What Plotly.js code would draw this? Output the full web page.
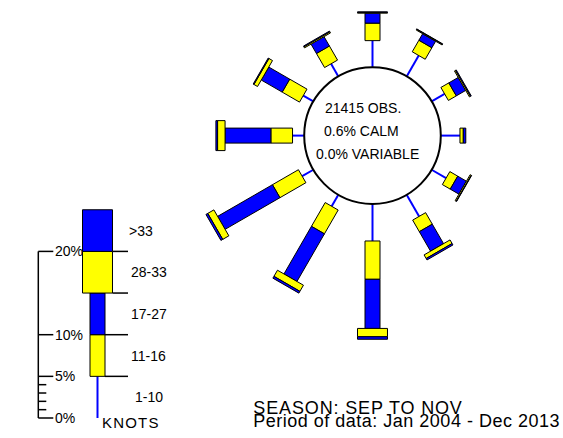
<!DOCTYPE html>
<html>
<head>
<meta charset="utf-8">
<script src="https://cdn.plot.ly/plotly-3.0.1.min.js"></script>
<style>html,body{margin:0;padding:0;background:#fff;}</style>
</head>
<body>
<div id="chart" style="width:563px;height:438px;"></div>
<script>
// ---- DATA (percent of observations) ----
const directions = [0, 30, 60, 90, 120, 150, 180, 210, 240, 270, 300, 330];
const speedBins = ['1-10', '11-16', '17-27', '28-33', '>33'];
const pct_1_10  = [3.2, 2.9, 1.8, 2.3, 2.0, 3.0, 4.45, 1.6, 1.55, 1.4, 1.4, 1.75];
const pct_11_16 = [2.1, 1.6, 1.1, 0.4, 1.1, 1.6, 4.6, 3.3, 3.6, 2.6, 2.4, 1.95];
const pct_17_27 = [1.2, 0.9, 1.3, 0.3, 1.2, 2.7, 5.9, 6.6, 7.6, 5.5, 2.9, 1.3];
const pct_28_33 = [0.1, 0.1, 0.15, 0, 0.15, 0.5, 1.0, 0.85, 0.85, 0.9, 0.5, 0.15];
const pct_gt33  = [0.05, 0.05, 0.1, 0, 0.05, 0.2, 0.3, 0.25, 0.25, 0.2, 0.1, 0.1];
const legendSteps = [5, 5, 5, 5, 5];
const scaleMajor = [0, 5, 10, 20];
const scaleMinor = [1, 2, 3, 4];
const scaleLabels = ['0%', '5%', '10%', '20%'];
const separators = [5, 10, 15, 20];
const centerLines = ['21415 OBS.', '0.6% CALM', '0.0% VARIABLE'];
const seasonText = 'SEASON: SEP TO NOV';
const periodText = 'Period of data: Jan 2004 - Dec 2013';
const unitText = 'KNOTS';

// ---- GEOMETRY / STYLE ----
const W = 563, H = 438;
const K = 8.33;               // px per percent
const CX = 372.5, CY = 135.6; // rose centre (px)
const R0 = 68.3 / K;          // inner circle radius (percent units)
const NARROW = 0.9, WIDE = 1.8; // half widths
const YEL = '#FFFF00', BLU = '#0000FF';
const FONT = 'Liberation Sans, Arial, sans-serif';
const toX = px => (px - CX) / K;
const toY = py => (CY - py) / K;

const traces = [];
function bar(theta, r1, r2, hw, ox, oy, color) {
  if (r2 - r1 <= 0) return;
  const t = theta * Math.PI / 180;
  const ux = Math.sin(t), uy = Math.cos(t);
  const vx = Math.cos(t), vy = -Math.sin(t);
  const xs = [ox + r1*ux + hw*vx, ox + r2*ux + hw*vx, ox + r2*ux - hw*vx, ox + r1*ux - hw*vx];
  const ys = [oy + r1*uy + hw*vy, oy + r2*uy + hw*vy, oy + r2*uy - hw*vy, oy + r1*uy - hw*vy];
  xs.push(xs[0]); ys.push(ys[0]);
  traces.push({type:'scatter', mode:'lines', x:xs, y:ys, fill:'toself', fillcolor:color,
    line:{color:'#000', width:1}, hoverinfo:'skip'});
}
function stick(theta, r1, r2, ox, oy) {
  if (r2 - r1 <= 0) return;
  const t = theta * Math.PI / 180;
  const ux = Math.sin(t), uy = Math.cos(t);
  traces.push({type:'scatter', mode:'lines', x:[ox + r1*ux, ox + r2*ux], y:[oy + r1*uy, oy + r2*uy],
    line:{color:BLU, width:2}, hoverinfo:'skip'});
}
function drawStack(theta, vals, start, ox, oy) {
  let r = start;
  const b = [r];
  vals.forEach(v => { r += v; b.push(r); });
  stick(theta, b[0], b[1], ox, oy);
  bar(theta, b[1], b[2], NARROW, ox, oy, YEL);
  bar(theta, b[2], b[3], NARROW, ox, oy, BLU);
  bar(theta, b[3], b[4], WIDE, ox, oy, YEL);
  bar(theta, b[4], b[5], WIDE, ox, oy, BLU);
}

// rose
directions.forEach((d, i) => {
  drawStack(d, [pct_1_10[i], pct_11_16[i], pct_17_27[i], pct_28_33[i], pct_gt33[i]], R0, 0, 0);
});

// legend key
const LX = toX(97.5), LY = toY(418);
drawStack(0, legendSteps, 0, LX, LY);

// legend scale
const SX = toX(38.3);
const scx = [SX, SX, null], scy = [LY + scaleMajor[0], LY + scaleMajor[scaleMajor.length-1], null];
scaleMajor.forEach(v => { scx.push(SX, SX + 15/K, null); scy.push(LY + v, LY + v, null); });
scaleMinor.forEach(v => { scx.push(SX, SX + 8/K, null); scy.push(LY + v, LY + v, null); });
separators.forEach(v => {
  const hw = v >= 15 ? WIDE : NARROW;
  scx.push(LX + hw, LX + 30.5/K, null); scy.push(LY + v, LY + v, null);
});
traces.push({type:'scatter', mode:'lines', x:scx, y:scy, line:{color:'#000', width:1.5}, hoverinfo:'skip'});

// annotations (letter spacing widens text around its centre, so left-anchored
// texts are shifted right by half of the added width)
const ann = [];
const spacing = {};
const txt = (text, x, y, xanchor, size, ls) => {
  let xx = x;
  if (ls) { spacing[ann.length] = ls + 'px'; xx = x + (ls * text.length / 2) / K; }
  ann.push({text, x:xx, y, xref:'x', yref:'y', showarrow:false,
    xanchor, yanchor:'middle', font:{family:FONT, size, color:'#000'}});
};
scaleMajor.forEach((v, i) => txt(scaleLabels[i], SX + 15/K, LY + v, 'left', 14));
let acc = 0;
speedBins.forEach((lab, i) => {
  const mid = acc + legendSteps[i] / 2;
  acc += legendSteps[i];
  if (lab === '>33') txt(lab, LX + 29.8/K, LY + mid, 'left', 14);
  else txt(lab, LX + 51.2/K, LY + mid, 'center', 14);
});
txt(unitText, toX(100), toY(422), 'left', 15, 1.2);
txt(centerLines[0], toX(362.5), toY(107.5), 'center', 14);
txt(centerLines[1], toX(361.2), toY(130.5), 'center', 14);
txt(centerLines[2], toX(367.7), toY(153.5), 'center', 14);
txt(seasonText, toX(251.5), toY(407.5), 'left', 18, 0.85);
txt(periodText, toX(251.5), toY(420.5), 'left', 18, 0.5);

const layout = {
  width: W, height: H, margin:{l:0, r:0, t:0, b:0},
  paper_bgcolor:'#fff', plot_bgcolor:'#fff', showlegend:false,
  xaxis:{range:[toX(0), toX(W)], visible:false, fixedrange:true},
  yaxis:{range:[toY(H), toY(0)], visible:false, fixedrange:true},
  shapes:[{type:'circle', xref:'x', yref:'y', x0:-R0, x1:R0, y0:-R0, y1:R0,
    line:{color:'#000', width:2}, fillcolor:'rgba(0,0,0,0)'}],
  annotations: ann
};
Plotly.newPlot('chart', traces, layout, {staticPlot:true, displayModeBar:false}).then(gd => {
  Object.keys(spacing).forEach(idx => {
    const g = gd.querySelector('.annotation[data-index="' + idx + '"] text');
    if (g) g.style.letterSpacing = spacing[idx];
  });
});
</script>
</body>
</html>
